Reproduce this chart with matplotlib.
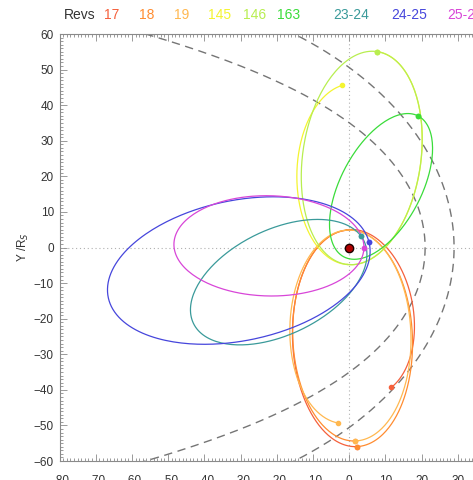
import numpy as np
import matplotlib
matplotlib.use('Agg')
import matplotlib.pyplot as plt
from matplotlib.ticker import MultipleLocator

plt.rcParams['font.family'] = ['Liberation Sans', 'DejaVu Sans']

# ---------------- data ----------------
rev_labels = ['17', '18', '19', '145', '146', '163', '23-24', '24-25', '25-26']
rev_colors = ['#F5603C', '#FF8C30', '#FFB850', '#F4F430', '#B8EE50',
              '#3ADC3A', '#3A9A9A', '#4646DC', '#D846D8']

# orbit segments (Kepler ellipses, Saturn at focus), values in R_S / degrees
seg_rev  = [0, 0, 1, 1, 2, 2, 3, 3, 4, 5, 6, 7, 8]
seg_rp   = [5.0, 4.9, 4.9, 4.9, 4.9, 4.9, 4.8, 4.8, 4.8, 3.0, 4.5, 5.7, 4.1]
seg_ra   = [42.0, 56.0, 56.0, 54.4, 54.4, 49.5, 46.0, 55.6, 55.6, 41.6, 48.0, 68.0, 48.4]
seg_peri = [100.0, 92.1, 92.1, 91.75, 91.75, 88.0, 268.8, 262.1, 262.1, 242.8, 26.6, 12.0, -1.2]
seg_nu0  = [186.6, 0, 180, 0, 180, 0, 183.5, 0, 180, 180, 17.4, 4, 0]
seg_nu1  = [360, 180, 360, 180, 360, 178.3, 360, 180, 540, 540, 377.4, 364, 360]

# boundaries: magnetopause (Shue-type) and bow shock (conic)
mp_standoff, mp_flaring = 21.0, 0.74
bs_standoff, bs_ecc = 29.0, 0.745

# ---------------- figure ----------------
W, H = 473, 480
fig = plt.figure(figsize=(W / 100, H / 100), dpi=100)
x_lo, x_hi = -80, 40
left_px, top_px, bottom_px = 59.5, 34, 461
px_per_unit = 3.62
ax = fig.add_axes([left_px / W, (H - bottom_px) / H,
                   (x_hi - x_lo) * px_per_unit / W, (bottom_px - top_px) / H])
ax.set_xlim(x_lo, x_hi)
ax.set_ylim(-60, 60)

grey = '#8a8a8a'
# zero lines
ax.axhline(0, color='#b0b0b0', lw=0.8, ls=(0, (1, 2.5)), zorder=1)
ax.axvline(0, color='#b0b0b0', lw=0.8, ls=(0, (1, 2.5)), zorder=1)

# boundaries
th = np.radians(np.linspace(-170, 170, 800))
r_mp = mp_standoff * (2.0 / (1.0 + np.cos(th))) ** mp_flaring
ax.plot(r_mp * np.cos(th), r_mp * np.sin(th), color='#757575', lw=1.0,
        ls=(0, (6, 4)), zorder=2)
th2 = np.radians(np.linspace(-150, 150, 800))
L = bs_standoff * (1 + bs_ecc)
r_bs = L / (1 + bs_ecc * np.cos(th2))
ax.plot(r_bs * np.cos(th2), r_bs * np.sin(th2), color='#757575', lw=1.0,
        ls=(0, (6, 4)), zorder=2)


def orbit(rp, ra, peri, nu0, nu1):
    e = (ra - rp) / (ra + rp)
    p = rp * (1 + e)
    nu = np.radians(np.linspace(nu0, nu1, 500))
    r = p / (1 + e * np.cos(nu))
    phi = np.radians(peri) + nu
    return r * np.cos(phi), r * np.sin(phi)


# orbits
rev_tracks = {}
for i in range(len(seg_rev)):
    x, y = orbit(seg_rp[i], seg_ra[i], seg_peri[i], seg_nu0[i], seg_nu1[i])
    rev_tracks.setdefault(seg_rev[i], []).append((x, y))

for k in range(len(rev_labels)):
    c = rev_colors[k]
    xs = np.concatenate([s[0] for s in rev_tracks[k]])
    ys = np.concatenate([s[1] for s in rev_tracks[k]])
    ax.plot(xs, ys, color=c, lw=0.9, zorder=3 + k * 0.01)
    ax.plot([xs[0], xs[-1]], [ys[0], ys[-1]], 'o', color=c, ms=3.0,
            mec=c, zorder=4 + k * 0.01)

# Saturn
ax.plot([0], [0], 'o', ms=6.0, mfc='#b00000', mec='#1a0000', mew=1.0, zorder=6)

# axes styling
for s in ax.spines.values():
    s.set_color(grey)
    s.set_linewidth(0.8)
ax.xaxis.set_major_locator(MultipleLocator(10))
ax.xaxis.set_minor_locator(MultipleLocator(1))
ax.yaxis.set_major_locator(MultipleLocator(10))
ax.yaxis.set_minor_locator(MultipleLocator(1))
ax.tick_params(which='both', direction='in', top=True, right=True, color=grey,
               labelcolor='#333333', labelsize=8.5, width=0.6)
ax.tick_params(which='major', length=5)
ax.tick_params(which='minor', length=2.5)
ax.tick_params(axis='x', pad=10)
ax.tick_params(axis='y', pad=4)
ax.set_ylabel('Y /R$_S$', fontsize=8.5, color='#333333', labelpad=2)

# header
header_x_px = [64, 104, 139, 174, 208, 243, 277, 333, 391, 447]
fig.text(header_x_px[0] / W, 1 - 15 / H, 'Revs', color='#333333', fontsize=10,
         va='center', ha='left')
for k, lab in enumerate(rev_labels):
    fig.text(header_x_px[k + 1] / W, 1 - 15 / H, lab, color=rev_colors[k],
             fontsize=10, va='center', ha='left')

fig.savefig('out.png', dpi=100)
